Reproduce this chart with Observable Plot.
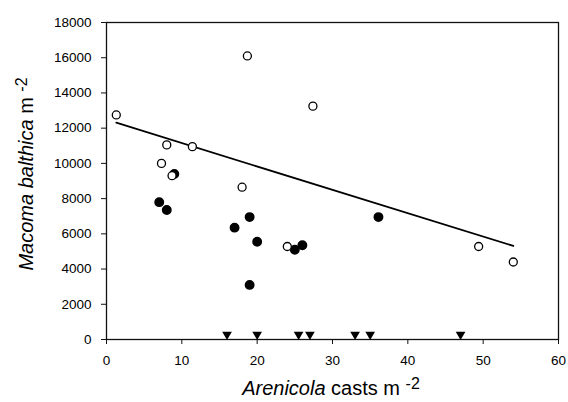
<!DOCTYPE html>
<html>
<head>
<meta charset="utf-8">
<script src="https://cdn.jsdelivr.net/npm/d3@7"></script>
<script src="https://cdn.jsdelivr.net/npm/@observablehq/plot@0.6"></script>
<style>
  html, body { margin: 0; padding: 0; background: #fff; }
  #chart svg { display: block; }
</style>
</head>
<body>
<div id="chart"></div>
<script>
// Sites with Macoma present (open circles, used for the regression line)
const openCasts = [1.3, 18.7, 27.4, 8.0, 11.4, 7.3, 8.7, 18.0, 24.0, 49.4, 54.0];
const openMacoma = [12750, 16100, 13250, 11050, 10950, 10000, 9300, 8650, 5280, 5280, 4400];

// Second group of sites (filled circles)
const filledCasts = [9.0, 7.0, 8.0, 17.0, 19.0, 20.0, 19.0, 25.0, 26.0, 36.1];
const filledMacoma = [9400, 7800, 7350, 6350, 6950, 5550, 3100, 5100, 5350, 6950];

// Sites where no Macoma were found (triangles on the x axis)
const zeroCasts = [16, 20, 25.5, 27, 33, 35, 47];

const xTicks = [0, 10, 20, 30, 40, 50, 60];
const yTicks = d3.range(0, 18001, 2000);

const openData = openCasts.map((x, i) => ({x, y: openMacoma[i]}));
const filledData = filledCasts.map((x, i) => ({x, y: filledMacoma[i]}));
const zeroData = zeroCasts.map(x => ({x, y: 0}));

const font = "'Liberation Sans', Arial, Helvetica, sans-serif";

const chart = Plot.plot({
  width: 568,
  height: 402,
  marginLeft: 106,
  marginRight: 10,
  marginTop: 22,
  marginBottom: 63,
  style: {fontFamily: font, fontSize: "13.5px", color: "#000", background: "#fff"},
  x: {domain: [0, 60]},
  y: {domain: [0, 18000]},
  marks: [
    Plot.frame({stroke: "#111", strokeWidth: 1.3}),
    Plot.axisX({ticks: xTicks, tickSize: 5, tickPadding: 11, label: null, stroke: "#111"}),
    Plot.axisY({ticks: yTicks, tickSize: 5, tickPadding: 10, tickFormat: "d", label: null, stroke: "#111"}),
    Plot.linearRegressionY(openData, {x: "x", y: "y", ci: 0, stroke: "#000", strokeWidth: 1.8}),
    Plot.dot(zeroData, {x: "x", y: "y", symbol: "triangle", rotate: 180, r: 3.6, dy: -5, fill: "#000"}),
    Plot.dot(filledData, {x: "x", y: "y", r: 4.2, fill: "#000", stroke: "#000"}),
    Plot.dot(openData, {x: "x", y: "y", r: 4, fill: "#fff", stroke: "#000", strokeWidth: 1.3})
  ]
});

document.getElementById("chart").appendChild(chart);

// Axis titles with italic taxon names and superscript units
const svg = d3.select(chart);

const xt = svg.append("text")
  .attr("x", 331)
  .attr("y", 395)
  .attr("text-anchor", "middle")
  .attr("font-family", font)
  .attr("font-size", 20)
  .attr("fill", "#000");
xt.append("tspan").attr("font-style", "italic").text("Arenicola");
xt.append("tspan").text(" casts m ");
xt.append("tspan").attr("font-size", 16).attr("dy", -6).text("-2");

const yt = svg.append("text")
  .attr("transform", "translate(33,174) rotate(-90)")
  .attr("text-anchor", "middle")
  .attr("font-family", font)
  .attr("font-size", 20)
  .attr("fill", "#000");
yt.append("tspan").attr("font-style", "italic").text("Macoma balthica");
yt.append("tspan").text(" m ");
yt.append("tspan").attr("font-size", 16).attr("dy", -6).text("-2");
</script>
</body>
</html>
